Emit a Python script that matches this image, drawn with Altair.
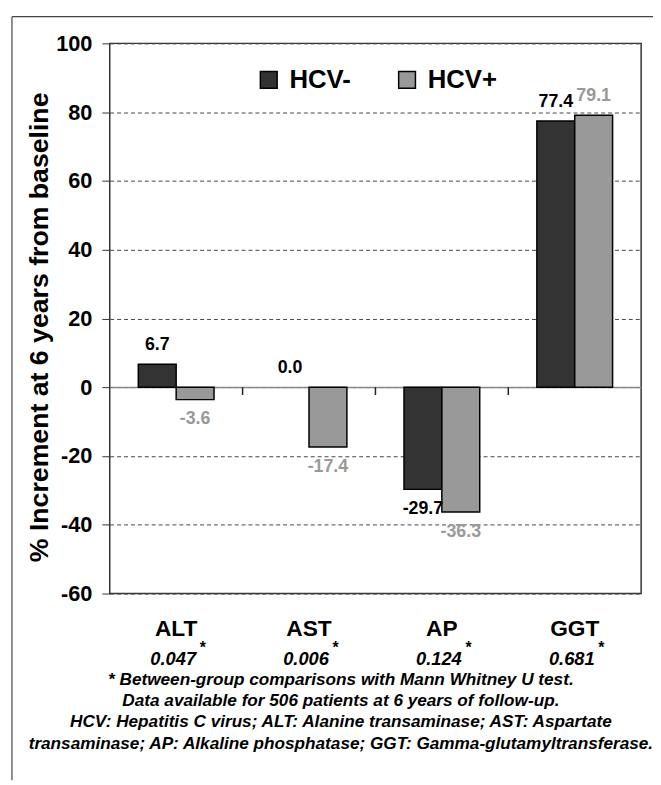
import altair as alt
import pandas as pd

# ---- data ----
categories = ["ALT", "AST", "AP", "GGT"]
series = ["HCV-", "HCV+"]
hcv_neg = [6.7, 0.0, -29.7, 77.4]
hcv_pos = [-3.6, -17.4, -36.3, 79.1]
p_values = ["0.047", "0.006", "0.124", "0.681"]
y_title = "% Increment at 6 years from baseline"
footnotes = [
    "* Between-group comparisons with Mann Whitney U test.",
    "Data available for 506 patients at 6 years of follow-up.",
    "HCV: Hepatitis C virus; ALT: Alanine transaminase; AST: Aspartate",
    "transaminase; AP: Alkaline phosphatase; GGT: Gamma-glutamyltransferase.",
]
bar_colors = ["#333333", "#999999"]
y_ticks = [-60, -40, -20, 0, 20, 40, 60, 80, 100]

rows = []
for i, c in enumerate(categories):
    for s, v in ((series[0], hcv_neg[i]), (series[1], hcv_pos[i])):
        rows.append({"category": c, "series": s, "value": v, "label": f"{v:.1f}"})
df = pd.DataFrame(rows)
cat_df = pd.DataFrame({"category": categories, "p": p_values, "star": ["*"] * 4})
note_df = pd.DataFrame({"note": ["\n".join(footnotes)]})
one = pd.DataFrame({"k": [0]})

FONT = "Liberation Sans"
W, H = 538, 557
P_IN = 0.43
STEP = W / len(categories)

x_axis = alt.X(
    "category:N", sort=categories,
    scale=alt.Scale(paddingInner=P_IN, paddingOuter=P_IN / 2),
    axis=alt.Axis(orient="bottom", offset=-209, labels=False, ticks=False,
                  title=None, domainColor="#888888", domainWidth=1.5, grid=False),
)
x_plain = alt.X("category:N", sort=categories)
x_off = alt.XOffset("series:N", sort=series, scale=alt.Scale(paddingInner=0, paddingOuter=0))

y_axis = alt.Y(
    "value:Q",
    scale=alt.Scale(domain=[-60, 100], nice=False, zero=False),
    axis=alt.Axis(values=y_ticks, title=y_title, titleFontSize=27, titleFontWeight="bold",
                  titleColor="black", titleX=-71, titleY=287, titleAngle=-90,
                  titleAlign="center", titleBaseline="middle",
                  labelFontSize=22, labelFontWeight="bold", labelColor="black",
                  labelExpr="'' + datum.value",
                  labelPadding=10, tickSize=8, tickColor="#333333", domain=False,
                  grid=True, gridDash=[4, 3], gridColor="#444444", gridWidth=1),
)
y_plain = alt.Y("value:Q")

bars = alt.Chart(df).transform_filter("datum.value != 0").mark_bar(
    stroke="black", strokeWidth=1.5
).encode(
    x=x_axis, xOffset=x_off, y=y_axis,
    color=alt.Color("series:N", sort=series,
                    scale=alt.Scale(domain=series, range=bar_colors),
                    legend=alt.Legend(orient="none", legendX=148, legendY=24,
                                      direction="horizontal", title=None,
                                      symbolType="square", symbolSize=289,
                                      symbolStrokeColor="black", symbolStrokeWidth=1.5,
                                      symbolOpacity=1, labelFontSize=26,
                                      labelFontWeight="bold", labelColor="black",
                                      labelFont=FONT, labelOffset=8,
                                      columnPadding=43, padding=0)),
)

# category-boundary tick marks below the zero line
boundary_ticks = alt.Chart(cat_df).transform_filter(
    alt.datum.category != categories[0]
).mark_rule(color="#222222", strokeWidth=1.5, xOffset=-STEP * P_IN / 2).encode(
    x=alt.X("category:N", sort=categories, bandPosition=0),
    y=alt.datum(0),
    y2=alt.value(356),
)

lab_color = alt.condition(alt.datum.series == series[0], alt.value("black"), alt.value("#999999"))
lab_pos = alt.Chart(df).transform_filter("datum.value >= 0").mark_text(
    dy=-19, fontSize=18, fontWeight="bold", baseline="middle", font=FONT
).encode(x=x_plain, xOffset=x_off, y=y_plain, text="label:N", color=lab_color)
lab_neg = alt.Chart(df).transform_filter("datum.value < 0").mark_text(
    dy=20, fontSize=18, fontWeight="bold", baseline="middle", font=FONT
).encode(x=x_plain, xOffset=x_off, y=y_plain, text="label:N", color=lab_color)

cat_labels = alt.Chart(cat_df).mark_text(
    fontSize=23, fontWeight="bold", baseline="alphabetic", font=FONT, color="black"
).encode(x=x_plain, y=alt.value(600), text="category:N")
p_labels = alt.Chart(cat_df).mark_text(
    fontSize=18.5, fontWeight="bold", fontStyle="italic", baseline="alphabetic",
    font=FONT, color="black", dx=-3
).encode(x=x_plain, y=alt.value(629), text="p:N")
p_stars = alt.Chart(cat_df).mark_text(
    fontSize=16, fontWeight="bold", baseline="alphabetic", font=FONT, color="black", dx=27
).encode(x=x_plain, y=alt.value(617), text="star:N")

notes = alt.Chart(note_df).mark_text(
    fontSize=17.4, fontWeight="bold", fontStyle="italic", baseline="alphabetic",
    align="center", font=FONT, color="black", lineBreak="\n", lineHeight=21.3
).encode(x=alt.value(234), y=alt.value(650), text="note:N")

frame_top = alt.Chart(one).mark_rule(color="#444444", strokeWidth=1.2).encode(
    x=alt.value(-99), x2=alt.value(550), y=alt.value(-27))
frame_left = alt.Chart(one).mark_rule(color="#444444", strokeWidth=1.2).encode(
    x=alt.value(-99), y=alt.value(-27), y2=alt.value(746))

chart = alt.layer(
    bars, boundary_ticks, lab_pos, lab_neg, cat_labels, p_labels, p_stars, notes,
    frame_top, frame_left
).properties(
    width=W, height=H,
    padding={"left": 103, "top": 31, "right": 12, "bottom": 189},
    autosize=alt.AutoSizeParams(type="none"),
).configure(font=FONT).configure_view(stroke="#333333", strokeWidth=1.5)

chart.save("out.html", embed_options={"renderer": "svg", "actions": False})
